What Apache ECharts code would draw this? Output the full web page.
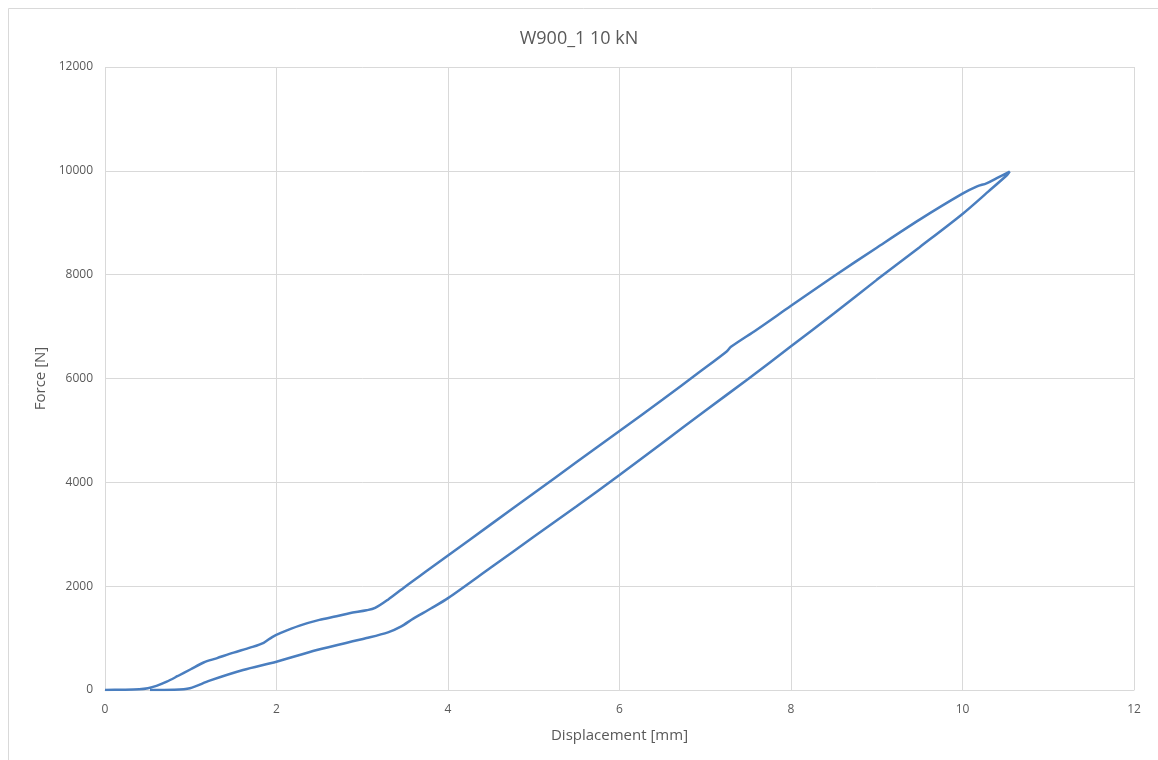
<!DOCTYPE html>
<html>
<head>
<meta charset="utf-8">
<script src="https://cdn.jsdelivr.net/npm/echarts@6/dist/echarts.min.js"></script>
<style>
  html, body { margin: 0; padding: 0; background: #fff; }
  #chart { width: 1158px; height: 760px; }
</style>
</head>
<body>
<div id="chart"></div>
<script>
// Loading branch (upper curve): displacement [mm] and force [N]
const loadDisp = [0, 0.2, 0.4, 0.5, 0.6, 0.72, 0.85, 1.0, 1.15, 1.3, 1.5, 1.7, 1.85, 1.95, 2.05, 2.27, 2.5, 2.7, 2.85, 3.05, 3.15, 3.3, 3.5, 3.75, 4.0, 4.5, 5.0, 5.5, 6.0, 6.5, 6.94, 7.25, 7.3, 7.6, 8.0, 8.5, 9.0, 9.5, 10.0, 10.17, 10.28, 10.4, 10.55];
const loadForce = [0, 5, 15, 35, 80, 160, 270, 400, 530, 610, 720, 820, 910, 1020, 1100, 1240, 1350, 1420, 1480, 1535, 1580, 1740, 1990, 2290, 2590, 3190, 3790, 4390, 4990, 5590, 6133, 6520, 6610, 6940, 7400, 7970, 8520, 9060, 9560, 9700, 9760, 9860, 9985];

// Unloading branch (lower curve), from peak back to zero force
const unloadDisp = [10.55, 10.52, 10.3, 10.0, 9.5, 9.0, 8.5, 8.0, 7.5, 7.0, 6.5, 6.0, 5.5, 5.0, 4.5, 4.0, 3.8, 3.6, 3.45, 3.3, 3.05, 2.47, 2.0, 1.61, 1.22, 0.99, 0.8, 0.525];
const unloadForce = [9985, 9920, 9600, 9170, 8530, 7900, 7250, 6620, 5990, 5380, 4760, 4140, 3540, 2950, 2360, 1770, 1570, 1380, 1220, 1110, 1000, 770, 545, 385, 180, 35, 5, 0];

const xTicks = [0, 2, 4, 6, 8, 10, 12];
const yTicks = [0, 2000, 4000, 6000, 8000, 10000, 12000];

const curve = loadDisp.map((d, i) => [d, loadForce[i]])
  .concat(unloadDisp.map((d, i) => [d, unloadForce[i]]));

const textColor = '#595959';
const gridColor = '#d9d9d9';
const fontFamily = 'Open Sans, Noto Sans, sans-serif';

const chart = echarts.init(document.getElementById('chart'));
chart.setOption({
  animation: false,
  backgroundColor: '#fff',
  graphic: [{
    type: 'rect',
    shape: { x: 8.5, y: 8.5, width: 1170, height: 770 },
    style: { fill: 'none', stroke: '#d9d9d9', lineWidth: 1 },
    silent: true
  }],
  title: {
    text: 'W900_1 10 kN',
    left: 'center',
    top: 25,
    textStyle: { color: textColor, fontSize: 18, fontWeight: 'normal', fontFamily }
  },
  grid: { left: 105, right: 24, top: 67, bottom: 70 },
  xAxis: {
    type: 'value',
    min: xTicks[0],
    max: xTicks[xTicks.length - 1],
    interval: xTicks[1] - xTicks[0],
    name: 'Displacement [mm]',
    nameLocation: 'middle',
    nameGap: 38,
    nameTextStyle: { color: textColor, fontSize: 15, fontFamily },
    axisLine: { show: true, lineStyle: { color: gridColor } },
    axisTick: { show: false },
    axisLabel: { color: textColor, fontSize: 12, margin: 14, fontFamily },
    splitLine: { show: true, lineStyle: { color: gridColor } }
  },
  yAxis: {
    type: 'value',
    min: yTicks[0],
    max: yTicks[yTicks.length - 1],
    interval: yTicks[1] - yTicks[0],
    name: 'Force [N]',
    nameLocation: 'middle',
    nameGap: 57,
    nameTextStyle: { color: textColor, fontSize: 15, fontFamily },
    axisLine: { show: false },
    axisTick: { show: false },
    axisLabel: { color: textColor, fontSize: 12, margin: 12, fontFamily, formatter: v => String(v) },
    splitLine: { show: true, lineStyle: { color: gridColor } }
  },
  series: [{
    type: 'line',
    data: curve,
    showSymbol: false,
    smooth: 0.3,
    lineStyle: { color: '#4a7ebf', width: 2.5 },
    itemStyle: { color: '#4a7ebf' }
  }]
});
</script>
</body>
</html>
